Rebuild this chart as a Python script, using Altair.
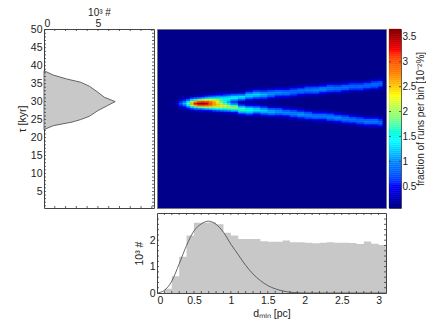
import altair as alt
import pandas as pd

# ---------- left panel: tau distribution ----------
tau_vals = [22.2, 23.3, 24.3, 25.0, 25.9, 27.5, 28.9, 30.0, 31.2, 32.6, 34.3, 35.4, 36.3, 37.4, 38.6]
tau_counts = [0.0, 0.85, 2.6, 3.4, 4.2, 5.0, 5.9, 6.6, 5.6, 5.0, 4.2, 3.4, 2.1, 0.85, 0.0]

# ---------- bottom panel: d_min distribution ----------
hist_edge = [0.1, 0.2, 0.3, 0.4, 0.5, 0.6, 0.7, 0.8, 0.9, 1.0, 1.1, 1.2, 1.3, 1.4, 1.5,
             1.6, 1.7, 1.8, 1.9, 2.0, 2.1, 2.2, 2.3, 2.4, 2.5, 2.6, 2.7, 2.8, 2.9, 3.0, 3.1]
hist_vals = [0.16, 0.63, 1.37, 2.18, 2.66, 2.66, 2.68, 2.60, 2.28, 2.18, 2.05, 2.05, 2.05, 1.96, 1.94,
             1.94, 1.99, 1.92, 1.92, 1.90, 1.88, 1.90, 1.92, 1.90, 1.90, 1.89, 1.86, 1.95, 1.87, 1.82, 1.82]
curve_d = [0, 0.1, 0.2, 0.3, 0.4, 0.5, 0.6, 0.7, 0.8, 0.9, 1.0, 1.1, 1.2, 1.3, 1.4, 1.5, 1.6, 1.7, 1.8, 1.9, 2.0, 3.1]
curve_v = [0, 0.1, 0.45, 1.1, 1.8, 2.35, 2.62, 2.72, 2.6, 2.3, 1.85, 1.45, 1.05, 0.72, 0.47, 0.28, 0.16, 0.08, 0.03, 0.01, 0, 0]

# ---------- heat map: columns of (left d, right d, first tau, values in 1/100) ----------
tip_cols = [
    (0.20, 0.25, 28.5, [4, 8, 12, 8, 4]),
    (0.25, 0.30, 28.5, [8, 18, 35, 18, 8]),
    (0.30, 0.35, 27.5, [6, 15, 30, 55, 75, 55, 30, 15, 6]),
    (0.35, 0.40, 27.5, [10, 22, 50, 85, 115, 90, 52, 22, 10]),
    (0.40, 0.45, 27.0, [5, 15, 40, 85, 135, 175, 135, 85, 40, 15, 5]),
    (0.45, 0.50, 27.0, [8, 22, 60, 125, 200, 255, 205, 130, 65, 25, 8]),
    (0.50, 0.55, 27.0, [10, 30, 80, 165, 260, 320, 265, 170, 85, 32, 10]),
    (0.55, 0.60, 27.0, [12, 35, 90, 185, 295, 355, 300, 195, 100, 40, 14]),
    (0.60, 0.65, 27.0, [14, 40, 100, 195, 300, 360, 310, 210, 115, 50, 18]),
    (0.65, 0.70, 27.0, [15, 45, 110, 200, 295, 340, 305, 220, 130, 60, 22]),
    (0.70, 0.75, 27.0, [18, 50, 120, 205, 275, 300, 280, 225, 145, 75, 30]),
    (0.75, 0.80, 27.0, [20, 60, 130, 205, 255, 265, 255, 215, 150, 85, 35, 10]),
    (0.80, 0.85, 27.0, [25, 70, 135, 210, 245, 240, 225, 205, 160, 100, 50, 18]),
    (0.85, 0.90, 26.5, [8, 30, 80, 145, 210, 235, 205, 175, 170, 145, 100, 50, 20]),
    (0.90, 0.95, 26.5, [10, 35, 90, 155, 205, 215, 170, 140, 150, 145, 105, 55, 22]),
    (0.95, 1.00, 26.5, [12, 40, 100, 165, 205, 190, 130, 105, 135, 150, 115, 60, 25, 8]),
    (1.00, 1.10, 26.0, [5, 18, 50, 110, 170, 195, 160, 90, 60, 100, 140, 125, 75, 30, 10]),
    (1.10, 1.20, 25.5, [5, 18, 50, 105, 155, 170, 130, 65, 25, 25, 70, 120, 130, 85, 35, 10]),
    (1.20, 1.30, 25.5, [8, 25, 60, 115, 150, 150, 105, 50, 15, 17, 42, 82, 120, 120, 82, 42, 17, 5]),
]
lower_cols = [
    (1.3, 1.4, 25.5, [5, 19, 47, 92, 128, 128, 92, 47, 19, 5]),
    (1.4, 1.5, 25.5, [10, 28, 62, 106, 125, 106, 62, 28, 10]),
    (1.5, 1.6, 25.0, [5, 16, 40, 78, 109, 109, 78, 40, 16, 5]),
    (1.6, 1.7, 25.0, [4, 15, 37, 71, 100, 100, 71, 37, 15, 4]),
    (1.7, 1.8, 25.0, [8, 22, 50, 85, 100, 85, 50, 22, 8]),
    (1.8, 1.9, 24.5, [4, 14, 35, 68, 95, 95, 68, 35, 14, 4]),
    (1.9, 2.0, 24.5, [8, 23, 52, 89, 105, 89, 52, 23, 8]),
    (2.0, 2.1, 24.0, [4, 14, 35, 68, 95, 95, 68, 35, 14, 4]),
    (2.1, 2.2, 24.0, [8, 21, 48, 81, 95, 81, 48, 21, 8]),
    (2.2, 2.3, 24.0, [8, 21, 48, 81, 95, 81, 48, 21, 8]),
    (2.3, 2.4, 23.5, [4, 14, 35, 68, 95, 95, 68, 35, 14, 4]),
    (2.4, 2.5, 23.5, [8, 22, 50, 85, 100, 85, 50, 22, 8]),
    (2.5, 2.6, 23.0, [4, 13, 33, 65, 90, 90, 65, 33, 13, 4]),
    (2.6, 2.7, 23.0, [7, 20, 45, 77, 90, 77, 45, 20, 7]),
    (2.7, 2.8, 22.5, [4, 13, 32, 61, 86, 86, 61, 32, 13, 4]),
    (2.8, 2.9, 22.5, [8, 21, 48, 81, 95, 81, 48, 21, 8]),
    (2.9, 3.0, 22.5, [8, 21, 48, 81, 95, 81, 48, 21, 8]),
    (3.0, 3.05, 22.0, [3, 12, 30, 58, 81, 81, 58, 30, 12, 3]),
]
upper_cols = [
    (1.3, 1.4, 30.0, [10, 28, 62, 106, 125, 106, 62, 28, 10]),
    (1.4, 1.5, 30.0, [9, 25, 58, 98, 115, 98, 58, 25, 9]),
    (1.5, 1.6, 30.0, [4, 15, 37, 71, 100, 100, 71, 37, 15, 4]),
    (1.6, 1.7, 30.5, [8, 22, 50, 85, 100, 85, 50, 22, 8]),
    (1.7, 1.8, 30.5, [8, 21, 48, 81, 95, 81, 48, 21, 8]),
    (1.8, 1.9, 30.5, [4, 13, 32, 61, 86, 86, 61, 32, 13, 4]),
    (1.9, 2.0, 31.0, [7, 20, 45, 77, 90, 77, 45, 20, 7]),
    (2.0, 2.1, 31.0, [4, 13, 33, 65, 90, 90, 65, 33, 13, 4]),
    (2.1, 2.2, 31.0, [4, 14, 35, 68, 95, 95, 68, 35, 14, 4]),
    (2.2, 2.3, 31.5, [8, 22, 50, 85, 100, 85, 50, 22, 8]),
    (2.3, 2.4, 31.5, [4, 13, 33, 65, 90, 90, 65, 33, 13, 4]),
    (2.4, 2.5, 31.5, [4, 13, 32, 61, 86, 86, 61, 32, 13, 4]),
    (2.5, 2.6, 32.0, [7, 20, 45, 77, 90, 77, 45, 20, 7]),
    (2.6, 2.7, 32.0, [3, 12, 30, 58, 81, 81, 58, 30, 12, 3]),
    (2.7, 2.8, 32.0, [3, 12, 30, 58, 81, 81, 58, 30, 12, 3]),
    (2.8, 2.9, 32.5, [7, 19, 43, 72, 85, 72, 43, 19, 7]),
    (2.9, 3.0, 32.5, [4, 13, 32, 61, 86, 86, 61, 32, 13, 4]),
    (3.0, 3.05, 33.0, [7, 19, 43, 72, 85, 72, 43, 19, 7]),
]

# ---------- colour scale and ticks ----------
jet_stops = [0.06, 0.5, 0.95, 1.4, 1.85, 2.3, 2.75, 3.2, 3.66]
jet_colors = ["#00008a", "#0000ff", "#007fff", "#00ffff", "#7fff7f", "#ffff00", "#ff7f00", "#ff0000", "#800000"]
bar_steps = [0.06 + 0.04 * i for i in range(90)]
bar_ticks = [0.5, 1, 1.5, 2, 2.5, 3, 3.5]
tau_major = [5, 10, 15, 20, 25, 30, 35, 40, 45, 50]
count_minor = list(range(1, 11))
d_major = [0, 0.5, 1, 1.5, 2, 2.5, 3]
d_minor = [i / 10 for i in range(1, 31)]
y3_minor = [i / 5 for i in range(1, 15)]

FONT = "Liberation Sans"
INK = "#3a3a3a"
jet = alt.Scale(domain=jet_stops, range=jet_colors, clamp=True)
TAU_DOM = [0.4, 50.2]
D_DOM = [0, 3.1]
COUNT_DOM = [0, 10.2]
Y3_DOM = [0, 3.03]


def ticks(vals, channel, scale, at_end, length, color=INK):
    """Inward tick marks drawn from a list of axis values."""
    df = pd.DataFrame({"v": vals})
    c = alt.Chart(df).mark_rule(color=color, strokeWidth=0.8)
    start = alt.value(at_end)
    stop = alt.value(at_end + length)
    if channel == "x":
        return c.encode(x=alt.X("v:Q", scale=scale, axis=None), y=start, y2=stop)
    return c.encode(y=alt.Y("v:Q", scale=scale, axis=None), x=start, x2=stop)


def label_axis(**kw):
    opts = dict(domain=False, ticks=False, grid=False, labelFont=FONT, labelFontSize=10.5,
                labelColor="#222", titleFont=FONT, titleFontSize=10.5, titleColor="#222",
                titleFontWeight="normal", labelPadding=2)
    opts.update(kw)
    return alt.Axis(**opts)


xs_tau = alt.Scale(domain=COUNT_DOM, nice=False)
ys_tau = alt.Scale(domain=TAU_DOM, nice=False)
W1, H1 = 110, 179
WH, H3 = 229, 80

# left panel
left_df = pd.DataFrame({"tau": tau_vals, "n": tau_counts})
left_area = alt.Chart(left_df).mark_area(
    orient="horizontal", color="#c8c8c8", stroke="#444", strokeWidth=0.8
).encode(
    x=alt.X("n:Q", scale=xs_tau, stack=None,
            axis=label_axis(orient="top", values=[0, 5], title="10³ #", format="d", titlePadding=1,
                            labelPadding=1, titleFontSize=10)),
    y=alt.Y("tau:Q", scale=ys_tau,
            axis=label_axis(orient="left", values=tau_major, title="τ [kyr]", format="d", titlePadding=3)),
)
left = alt.layer(
    left_area,
    ticks(count_minor, "x", xs_tau, 0, 2),
    ticks(count_minor, "x", xs_tau, H1 - 2, 2),
    ticks(list(range(1, 51)), "y", ys_tau, 0, 2),
    ticks(list(range(1, 51)), "y", ys_tau, W1 - 2, 2),
).resolve_axis(x="independent", y="independent").properties(width=W1, height=H1)

# heat panel
rows = []
for cols in (tip_cols, lower_cols, upper_cols):
    for d0, d1, start, vals in cols:
        for i, v in enumerate(vals):
            t = start + i * 0.5
            rows.append({"d0": d0, "d1": d1, "t0": t - 0.25, "t1": t + 0.25, "v": v / 100})
heat_df = pd.DataFrame(rows)
heat = alt.Chart(heat_df).mark_rect(strokeWidth=0.4).encode(
    x=alt.X("d0:Q", scale=alt.Scale(domain=D_DOM, nice=False), axis=None),
    x2="d1:Q",
    y=alt.Y("t0:Q", scale=alt.Scale(domain=TAU_DOM, nice=False), axis=None),
    y2="t1:Q",
    color=alt.Color("v:Q", scale=jet, legend=None),
    stroke=alt.Stroke("v:Q", scale=jet, legend=None),
).properties(width=WH, height=H1, view=alt.ViewConfig(fill="#00008a", stroke="#777", strokeWidth=1))

# colour bar
bar_df = pd.DataFrame({"v": bar_steps, "v2": [b + 0.04 for b in bar_steps]})
ys_bar = alt.Scale(domain=[0.06, 3.66], nice=False)
bar_rect = alt.Chart(bar_df).mark_rect(strokeWidth=0.3).encode(
    y=alt.Y("v:Q", scale=ys_bar,
            axis=label_axis(orient="right", values=bar_ticks, title="fraction of runs per bin [10⁻²%]",
                            labelExpr="datum.value", titleAngle=270, titleBaseline="top", titlePadding=0,
                            labelPadding=1, labelFontSize=10, titleFontSize=10)),
    y2="v2:Q",
    color=alt.Color("v:Q", scale=jet, legend=None),
    stroke=alt.Stroke("v:Q", scale=jet, legend=None),
)
bar = alt.layer(
    bar_rect,
    ticks(bar_ticks, "y", ys_bar, 0, 2),
    ticks(bar_ticks, "y", ys_bar, 10, 2),
).resolve_axis(y="independent").properties(width=12, height=H1,
                                           view=alt.ViewConfig(stroke="#555", strokeWidth=1))

# bottom panel
xs_d = alt.Scale(domain=D_DOM, nice=False)
ys_3 = alt.Scale(domain=Y3_DOM, nice=False)
hist_df = pd.DataFrame({"d0": hist_edge, "n": hist_vals})
hist = alt.Chart(hist_df).mark_area(color="#c8c8c8", interpolate="step-after").encode(
    x=alt.X("d0:Q", scale=xs_d,
            axis=label_axis(orient="bottom", values=d_major, title="dₘᵢₙ [pc]", labelExpr="datum.value",
                            titlePadding=3)),
    y=alt.Y("n:Q", scale=ys_3, stack=None,
            axis=label_axis(orient="left", values=[0, 1, 2], title="10³ #", format="d", titlePadding=5)),
)
curve_df = pd.DataFrame({"d": curve_d, "n": curve_v})
curve = alt.Chart(curve_df).mark_line(color="#444", strokeWidth=0.8, interpolate="monotone").encode(
    x=alt.X("d:Q", scale=xs_d, axis=None),
    y=alt.Y("n:Q", scale=ys_3, axis=None),
)
bottom = alt.layer(
    hist, curve,
    ticks(d_minor, "x", xs_d, 0, 2),
    ticks(d_minor, "x", xs_d, H3 - 2, 2),
    ticks(y3_minor, "y", ys_3, 0, 2),
    ticks(y3_minor, "y", ys_3, WH - 2, 2),
).resolve_axis(x="independent", y="independent").properties(width=WH, height=H3)

spacer = alt.Chart(pd.DataFrame({"a": [0]})).mark_point(opacity=0).encode(
    x=alt.X("a:Q", axis=None), y=alt.Y("a:Q", axis=None)
).properties(width=W1, height=H3, view=alt.ViewConfig(stroke=None))

chart = alt.concat(left, heat, bar, spacer, bottom, columns=3, spacing={"row": 5, "column": 3},
                   bounds="flush", align="each").configure_view(stroke="#444", strokeWidth=1).properties(
    padding={"left": 8, "top": -2, "right": -1, "bottom": 0}, background="white")

chart.save("out.html", embed_options={"renderer": "svg", "actions": False})
